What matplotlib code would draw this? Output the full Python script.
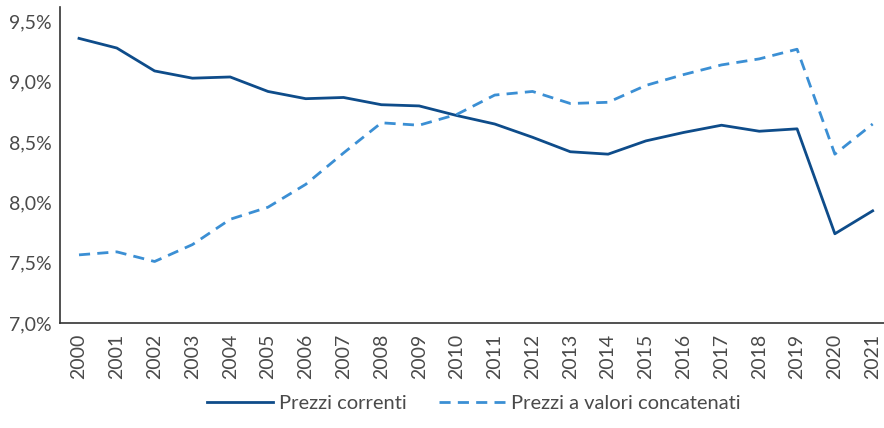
import matplotlib
matplotlib.use("Agg")
import matplotlib.pyplot as plt
from matplotlib.ticker import FuncFormatter

years = list(range(2000, 2022))
correnti = [9.36, 9.28, 9.09, 9.03, 9.04, 8.92, 8.86, 8.87, 8.81, 8.80, 8.72,
            8.65, 8.54, 8.42, 8.40, 8.51, 8.58, 8.64, 8.59, 8.61, 7.74, 7.93]
concatenati = [7.565, 7.59, 7.51, 7.65, 7.86, 7.96, 8.15, 8.41, 8.66, 8.64, 8.73,
               8.89, 8.92, 8.82, 8.83, 8.97, 9.06, 9.14, 9.19, 9.27, 8.40, 8.65]
yticks = [7.0, 7.5, 8.0, 8.5, 9.0, 9.5]

plt.rcParams['font.family'] = ['Lato', 'DejaVu Sans']

fig = plt.figure(figsize=(8.84, 4.28), dpi=100)
ax = fig.add_axes([0.068, 0.2453, 0.932, 0.7383])

x = list(range(len(years)))
ax.plot(x, correnti, color='#0E4C8A', lw=2.0, label='Prezzi correnti')
ax.plot(x, concatenati, color='#3B8FD4', lw=2.0, ls=(0, (4, 2.6)), label='Prezzi a valori concatenati')

ax.set_xlim(-0.5, 21.3)
ax.set_ylim(7.0, 9.62)
ax.set_yticks(yticks)
ax.yaxis.set_major_formatter(FuncFormatter(lambda v, p: f"{v:.1f}%".replace('.', ',')))
ax.set_xticks(x)
ax.set_xticklabels([str(y) for y in years], rotation=90)
ax.tick_params(axis='both', length=0, labelsize=14, colors='#4a4a4a', pad=6)
ax.tick_params(axis='x', pad=8)
for s in ['top', 'right']:
    ax.spines[s].set_visible(False)
for s in ['left', 'bottom']:
    ax.spines[s].set_color('#333333')
    ax.spines[s].set_linewidth(1.2)

fig.legend(loc='lower center', bbox_to_anchor=(0.536, -0.005), ncol=2, frameon=False,
           fontsize=14.5, handlelength=3.3, columnspacing=1.6, handletextpad=0.3,
           labelcolor='#4a4a4a')

fig.savefig('out.png', dpi=100)
